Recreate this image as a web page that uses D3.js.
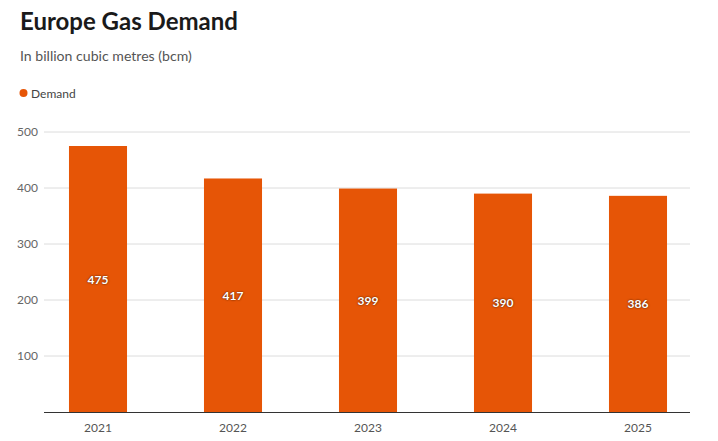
<!DOCTYPE html>
<html><head><meta charset="utf-8">
<script src="https://cdn.jsdelivr.net/npm/d3@7"></script>
<style>
body{margin:0;background:#fff;font-family:"Source Sans Pro","Lato","Noto Sans",sans-serif;}
svg text{font-family:"Lato","Noto Sans",sans-serif;}
</style></head>
<body>
<svg id="c" width="718" height="441"></svg>
<script>
const categories = ["2021","2022","2023","2024","2025"];
const demand = [475, 417, 399, 390, 386];
const yTicks = [100, 200, 300, 400, 500];

const svg = d3.select("#c");
const color = "#e65506";

svg.append("text").attr("x",20).attr("y",30).attr("font-size",24).attr("font-weight",700)
  .attr("fill","#1a1a1a").text("Europe Gas Demand");
svg.append("text").attr("x",20).attr("y",61).attr("font-size",14.1).attr("fill","#555")
  .text("In billion cubic metres (bcm)");
svg.append("circle").attr("cx",23.5).attr("cy",93).attr("r",4).attr("fill",color);
svg.append("text").attr("x",31).attr("y",97.5).attr("font-size",12).attr("fill","#444").text("Demand");

const x = d3.scaleBand().domain(categories).range([30.5, 705.5]).paddingInner(0.57).paddingOuter(0.285);
const y = d3.scaleLinear().domain([0, 500]).range([412, 132]);

const g = svg.append("g");
g.selectAll(".grid").data(yTicks).join("line")
  .attr("x1",44).attr("x2",690).attr("y1",d=>y(d)).attr("y2",d=>y(d))
  .attr("stroke","#dcdcdc").attr("stroke-width",1);
g.selectAll(".yl").data(yTicks).join("text")
  .attr("x",38).attr("y",d=>y(d)+4).attr("text-anchor","end")
  .attr("font-size",12).attr("fill","#666").text(d=>d);

g.selectAll(".bar").data(demand).join("rect")
  .attr("x",(d,i)=>x(categories[i])).attr("width",x.bandwidth())
  .attr("y",d=>y(d)).attr("height",d=>y(0)-y(d)).attr("fill",color);

g.selectAll(".bl").data(demand).join("text")
  .attr("x",(d,i)=>x(categories[i])+x.bandwidth()/2)
  .attr("y",d=>(y(d)+y(0))/2+4.5).attr("text-anchor","middle")
  .attr("font-size",12).attr("font-weight",700).attr("fill","#fff")
  .style("text-shadow","0 0 2px rgba(0,0,0,0.8)")
  .text(d=>d);

g.append("line").attr("x1",44).attr("x2",690).attr("y1",412.5).attr("y2",412.5)
  .attr("stroke","#333").attr("stroke-width",1.2);

g.selectAll(".xl").data(categories).join("text")
  .attr("x",d=>x(d)+x.bandwidth()/2).attr("y",432).attr("text-anchor","middle")
  .attr("font-size",12).attr("fill","#555").text(d=>d);
</script>
</body></html>
